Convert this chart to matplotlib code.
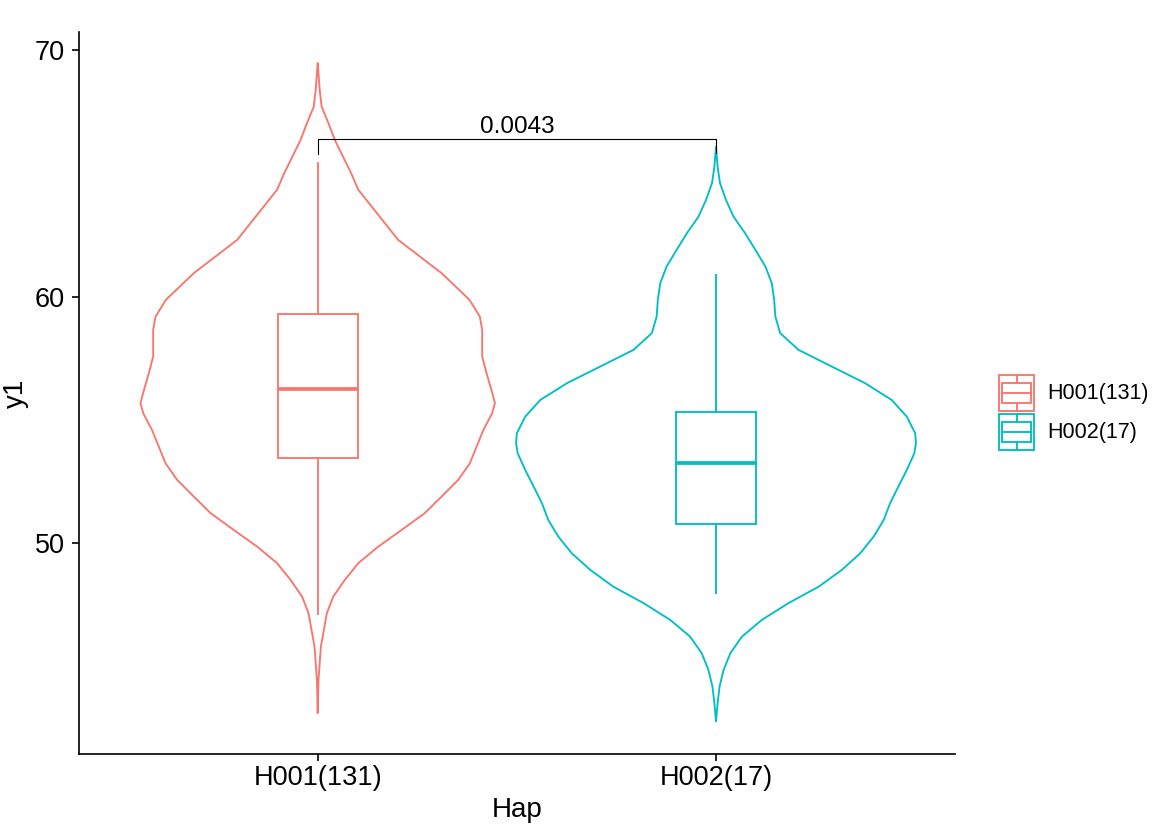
import numpy as np
import matplotlib
matplotlib.use("Agg")
import matplotlib.pyplot as plt
from matplotlib.patches import Rectangle, Patch
from matplotlib.lines import Line2D
from matplotlib.legend_handler import HandlerBase

# ---------------- data ----------------
haps = ["H001(131)", "H002(17)"]
colors = ["#F8766D", "#00BFC4"]

# violin profiles: y value and half-width (category units)
v1_y = [69.47, 69.06, 68.38, 67.70, 67.03, 66.35, 65.00, 64.33, 62.30, 60.95,
        59.87, 59.19, 58.65, 57.57, 56.89, 56.22, 55.68, 55.27, 54.59, 53.92,
        53.24, 52.57, 51.89, 51.22, 50.54, 49.86, 49.19, 48.51, 47.83, 47.16,
        45.81, 44.46, 43.11]
v1_hw = [0.0, 0.002, 0.005, 0.010, 0.027, 0.043, 0.084, 0.102, 0.202, 0.311,
         0.381, 0.407, 0.413, 0.413, 0.424, 0.436, 0.445, 0.438, 0.416, 0.399,
         0.382, 0.353, 0.311, 0.269, 0.211, 0.152, 0.102, 0.068, 0.039, 0.023,
         0.008, 0.002, 0.0]

v2_y = [66.08, 65.27, 64.60, 63.92, 63.24, 62.57, 61.89, 61.22, 60.54, 59.87,
        59.19, 58.52, 57.84, 57.16, 56.49, 55.81, 55.13, 54.46, 54.06, 53.65,
        52.97, 52.30, 51.62, 50.94, 50.27, 49.59, 48.92, 48.24, 47.57, 46.89,
        46.21, 45.54, 44.86, 44.19, 43.51, 42.77]
v2_hw = [0.0, 0.004, 0.010, 0.025, 0.044, 0.073, 0.099, 0.124, 0.140, 0.146,
         0.149, 0.161, 0.207, 0.291, 0.374, 0.441, 0.479, 0.500, 0.502, 0.498,
         0.479, 0.458, 0.437, 0.421, 0.396, 0.362, 0.316, 0.258, 0.182, 0.115,
         0.065, 0.036, 0.019, 0.009, 0.004, 0.0]

# box statistics
box_whislo = [47.12, 47.97]
box_q1 = [53.47, 50.78]
box_med = [56.26, 53.24]
box_q3 = [59.29, 55.31]
box_whishi = [65.41, 60.88]

p_label = "0.0043"
bracket_top = 66.38
bracket_ends = [65.79, 65.83]

# ---------------- figure ----------------
plt.rcParams['font.family'] = ['Liberation Sans', 'DejaVu Sans']
fig = plt.figure(figsize=(11.71, 8.33), dpi=100)
ax = fig.add_axes([78.7 / 1171, 1 - 754.3 / 833, (955 - 78.7) / 1171, (754.3 - 31.7) / 833])

LW = 1.35
positions = [1, 2]
violins = [(v1_y, v1_hw), (v2_y, v2_hw)]
for pos, (vy, vhw), col in zip(positions, violins, colors):
    vy = np.asarray(vy)
    vhw = np.asarray(vhw)
    xs = np.concatenate([pos - vhw, (pos + vhw)[::-1]])
    ys = np.concatenate([vy, vy[::-1]])
    ax.fill(xs, ys, facecolor='white', edgecolor=col, lw=LW, joinstyle='round',
            zorder=2)

for i, (pos, col) in enumerate(zip(positions, colors)):
    stats = [dict(whislo=box_whislo[i], q1=box_q1[i], med=box_med[i],
                  q3=box_q3[i], whishi=box_whishi[i], fliers=[])]
    ax.bxp(stats, positions=[pos], widths=0.2, showfliers=False, showcaps=False,
           patch_artist=True,
           boxprops=dict(facecolor='white', edgecolor=col, lw=LW),
           whiskerprops=dict(color=col, lw=LW),
           medianprops=dict(color=col, lw=2 * LW, solid_capstyle='butt'),
           zorder=3, manage_ticks=False)

# significance bracket
ax.plot([positions[0], positions[0], positions[1], positions[1]],
        [bracket_ends[0], bracket_top, bracket_top, bracket_ends[1]],
        color='black', lw=0.8, zorder=4)
ax.text(np.mean(positions), 66.65, p_label, ha='center', va='baseline',
        fontsize=17.5, zorder=5)

ax.set_xlim(0.4, 2.6)
ax.set_ylim(41.44, 70.74)
ax.set_xticks(positions)
ax.set_xticklabels(haps)
ax.set_yticks([50, 60, 70])
ax.tick_params(axis='both', labelsize=19.5, length=5, width=1.2, color='black',
               labelcolor='black')
ax.tick_params(axis='x', pad=3)
ax.tick_params(axis='y', pad=5)
for s in ['top', 'right']:
    ax.spines[s].set_visible(False)
for s in ['left', 'bottom']:
    ax.spines[s].set_linewidth(1.2)
    ax.spines[s].set_color('black')
ax.set_xlabel("Hap", fontsize=20, labelpad=4)
ax.set_ylabel("y1", fontsize=20, labelpad=4)


class BoxKeyHandler(HandlerBase):
    def create_artists(self, legend, orig_handle, xdescent, ydescent, width,
                       height, fontsize, trans):
        col = orig_handle.get_edgecolor()
        x0, y0 = -xdescent, -ydescent
        lw = LW
        outer = Rectangle((x0 + 1, y0 + 1), width - 2, height - 2, fill=False,
                          edgecolor=col, lw=lw, transform=trans)
        box = Rectangle((x0 + 0.12 * width, y0 + 0.25 * height), 0.76 * width,
                        0.5 * height, facecolor='white', edgecolor=col, lw=lw,
                        transform=trans)
        med = Line2D([x0 + 0.12 * width, x0 + 0.88 * width],
                     [y0 + 0.5 * height] * 2, color=col, lw=lw, transform=trans)
        w1 = Line2D([x0 + 0.5 * width] * 2, [y0 + 1, y0 + 0.25 * height],
                    color=col, lw=lw, transform=trans)
        w2 = Line2D([x0 + 0.5 * width] * 2, [y0 + 0.75 * height, y0 + height - 1],
                    color=col, lw=lw, transform=trans)
        return [outer, w1, w2, box, med]


LEG_FS = 15.5
handles = [Patch(facecolor='white', edgecolor=c) for c in colors]
handler = BoxKeyHandler()
leg = fig.legend(handles, haps, handler_map={h: handler for h in handles},
                 loc='center left', bbox_to_anchor=(997.3 / 1171, 1 - 412.3 / 833),
                 bbox_transform=fig.transFigure, frameon=False, fontsize=LEG_FS,
                 handlelength=27.7 / LEG_FS, handleheight=2.67 * 14 / LEG_FS,
                 labelspacing=0.0, handletextpad=0.55, borderpad=0, borderaxespad=0)

fig.savefig("out.png", dpi=100)
